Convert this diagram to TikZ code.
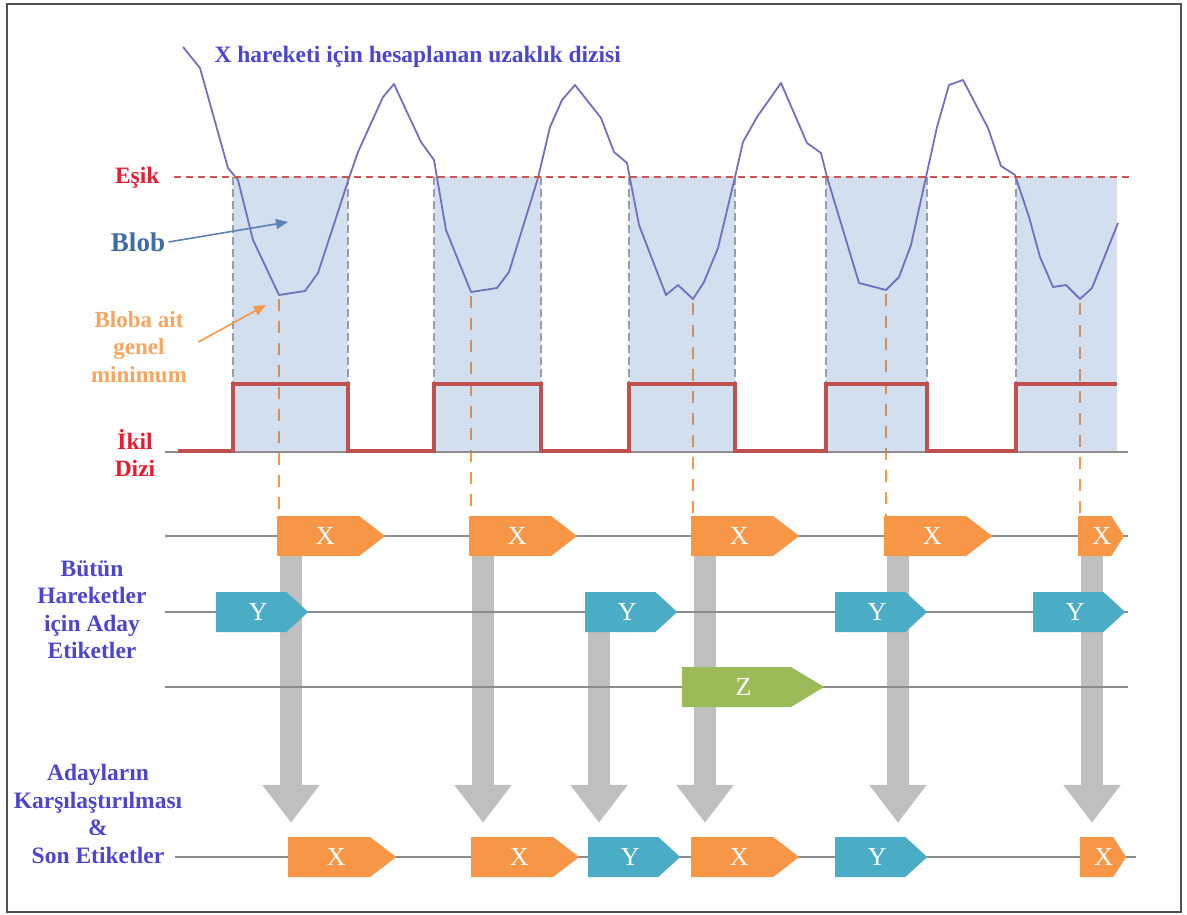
\documentclass[tikz,border=0pt]{standalone}
\usepackage{fontspec}
\setmainfont{Liberation Serif}
\usetikzlibrary{shapes.symbols,arrows.meta}

\definecolor{titleblue}{RGB}{76,70,206}
\definecolor{labelred}{RGB}{232,28,48}
\definecolor{threshred}{RGB}{205,85,80}
\definecolor{curveblue}{RGB}{112,112,190}
\definecolor{blobblue}{RGB}{79,129,189}
\definecolor{blobedge}{RGB}{150,158,170}
\definecolor{wavered}{RGB}{192,80,77}
\definecolor{bloblabel}{RGB}{62,108,165}
\definecolor{minorange}{RGB}{247,150,70}
\definecolor{minlabel}{RGB}{247,165,95}
\definecolor{tagx}{RGB}{247,150,70}
\definecolor{tagy}{RGB}{75,172,198}
\definecolor{tagz}{RGB}{155,187,89}
\definecolor{bargray}{RGB}{191,191,191}
\definecolor{rowgray}{RGB}{140,140,140}
\definecolor{framegray}{RGB}{80,80,80}

\pgfdeclarelayer{background}
\pgfdeclarelayer{blobs}
\pgfsetlayers{background,blobs,main}

\tikzset{
  tag/.style={signal, signal to=east, inner sep=0pt, minimum height=40pt,
    anchor=west, text=white, font=\fontsize{26}{26}\selectfont,
    execute at begin node={\hskip14pt}},
  xtag/.style={tag, fill=tagx, minimum width=108pt, signal pointer angle=75},
  xend/.style={tag, fill=tagx, minimum width=46pt, signal pointer angle=114,
    execute at begin node={}},
  ytag/.style={tag, fill=tagy, minimum width=92pt, signal pointer angle=85},
  ztag/.style={tag, fill=tagz, minimum width=142pt, signal pointer angle=62},
  rowline/.style={draw=rowgray, line width=1.4pt},
  bar/.style={draw=bargray, line width=22pt, shorten >=14pt,
    -{Triangle[width=55pt,length=38pt]}},
  mindash/.style={draw=minorange, line width=2.2pt, dash pattern=on 12pt off 10pt},
  boldlabel/.style={font=\fontsize{23.5}{27.5}\selectfont\bfseries, align=center},
}

\begin{document}
\begin{tikzpicture}[x=1pt,y=-1pt]
  \useasboundingbox (0,0) rectangle (1187,915);
  \draw[framegray, line width=1.5pt] (7,4) rectangle (1181,912);

  % blobs under the threshold
  \begin{pgfonlayer}{blobs}
    \foreach \l/\r in {233/348,434/541,629/735,826/927,1016/1117}
      \fill[blobblue, fill opacity=0.256] (\l,177) rectangle (\r,452);
  \end{pgfonlayer}
  \foreach \x in {233,348,434,541,629,735,826,927,1016}
    \draw[blobedge, line width=1.2pt, dash pattern=on 8pt off 4pt] (\x,177) -- (\x,384);

  % distance series
  \draw[curveblue, line width=1.8pt, line join=round]
    (183,47) -- (200,68) -- (228,168) -- (238,180) -- (253,240)
    -- (279,295) coordinate (m1) -- (305,291) -- (318,273) -- (349,178)
    -- (358,152) -- (383,97) -- (394,84) -- (406,110) -- (421,142)
    -- (434,160) -- (446,230) -- (471,292) coordinate (m2) -- (497,288)
    -- (509,272) -- (538,178) -- (550,127) -- (562,100) -- (575,85)
    -- (601,118) -- (614,152) -- (627,163) -- (639,225) -- (666,295)
    -- (678,285) -- (693,299) coordinate (m3) -- (704,282) -- (718,248)
    -- (735,177) -- (743,142) -- (757,117) -- (781,83) -- (807,143)
    -- (821,153) -- (827,177) -- (859,283) -- (886,290) coordinate (m4)
    -- (899,277) -- (911,245) -- (926,177) -- (937,127) -- (949,85)
    -- (963,80) -- (988,128) -- (1001,166) -- (1015,175) -- (1029,217)
    -- (1040,257) -- (1053,287) -- (1066,285) -- (1080,299) coordinate (m5)
    -- (1092,288) -- (1118,223);

  % threshold and binary series
  \draw[threshred, line width=1.5pt, dash pattern=on 7pt off 5pt] (174,177) -- (1130,177);
  \draw[rowgray, line width=1.4pt] (165,452) -- (1128,452);
  \draw[wavered, line width=4pt]
    (178,451) -| (233,384) -| (348,451) -| (434,384) -| (541,451)
    -| (629,384) -| (735,451) -| (826,384) -| (927,451) -| (1016,384) -- (1117,384);

  \node[titleblue, font=\fontsize{23.5}{27}\selectfont\bfseries, anchor=base west]
    (title) at (211,63) {X hareketi için hesaplanan uzaklık dizisi};
  \node[labelred, font=\fontsize{23.5}{27}\selectfont\bfseries, anchor=east]
    (esik) at (163,178) {Eşik};
  \node[labelred, boldlabel] (ikil) at (135,453) {İkil\\Dizi};
  \node[bloblabel, font=\fontsize{27}{30}\selectfont\bfseries] (blob) at (138,242) {Blob};
  \node[minlabel, font=\fontsize{23}{27.5}\selectfont\bfseries, align=center]
    (minlbl) at (139,347) {Bloba ait\\genel\\minimum};
  \coordinate (blobpt) at (288,222);
  \coordinate (minpt) at (266,305);
  \draw[bloblabel!85!white, line width=1.6pt, -{Triangle[width=10pt,length=12pt]}]
    (blob.east) -- (blobpt);
  \draw[minorange, line width=1.6pt, -{Triangle[width=10pt,length=12pt]}]
    ([shift={(8,-5)}]minlbl.east) -- (minpt);

  % label rows
  \draw[rowline] (165,536) -- (1128,536);
  \draw[rowline] (165,612) -- (1128,612);
  \draw[rowline] (165,687) -- (1128,687);
  \draw[rowline] (175,857) -- (1136,857);

  \node[titleblue, boldlabel] (cand) at (92,610) {Bütün\\Hareketler\\için Aday\\Etiketler};
  \node[titleblue, boldlabel] (comp) at (98,814) {Adayların\\Karşılaştırılması\\\&\\Son Etiketler};

  % candidate labels
  \node[xtag] (xa) at (277,536) {X};
  \node[xtag] (xb) at (469,536) {X};
  \node[xtag] (xc) at (691,536) {X};
  \node[xtag] (xd) at (884,536) {X};
  \node[xend] (xe) at (1078,536) {X};
  \node[ytag] (ya) at (216,612) {Y};
  \node[ytag] (yb) at (585,612) {Y};
  \node[ytag] (yc) at (835,612) {Y};
  \node[ytag] (yd) at (1033,612) {Y};
  \node[ztag] (za) at (682,687) {Z};

  % final labels
  \node[xtag] (fa) at (288,857) {X};
  \node[xtag] (fb) at (471,857) {X};
  \node[ytag] (fc) at (588,857) {Y};
  \node[xtag] (fd) at (691,857) {X};
  \node[ytag] (fe) at (835,857) {Y};
  \node[xend] (ff) at (1080,857) {X};

  \begin{pgfonlayer}{background}
    \foreach \m/\t in {m1/xa,m2/xb,m3/xc,m4/xd,m5/xe}
      \draw[mindash, shorten <=4pt] (\m) -- (\m |- \t.north);
    \foreach \from/\to in {xa/fa,xb/fb,yb/fc,xc/fd,xd/fe,xe/ff}{
      \path ([xshift=14pt]\from.south west) coordinate (top);
      \draw[bar] (top) -- (top |- \to.north);
    }
  \end{pgfonlayer}
\end{tikzpicture}
\end{document}
